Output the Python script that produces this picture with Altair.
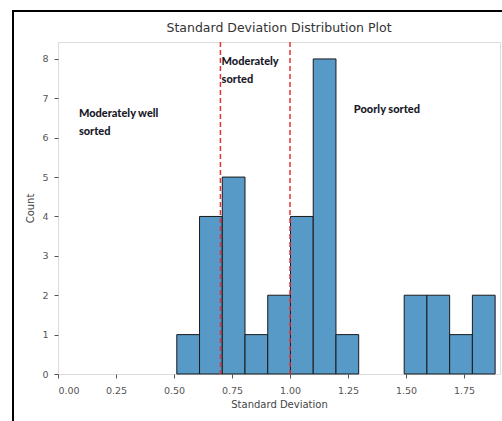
import altair as alt
import pandas as pd

# Histogram bins (left and right edges) and counts
bin_left = [0.512, 0.610, 0.708, 0.806, 0.904, 1.002, 1.100, 1.198, 1.492, 1.590, 1.688, 1.786]
bin_right = [0.610, 0.708, 0.806, 0.904, 1.002, 1.100, 1.198, 1.296, 1.590, 1.688, 1.786, 1.884]
counts = [1, 4, 5, 1, 2, 4, 8, 1, 2, 2, 1, 2]

# Threshold lines
thresholds = [0.7, 1.0]

# Annotations
ann_text = [["Moderately well", "sorted"], ["Moderately", "sorted"], ["Poorly sorted"]]
ann_x = [0.09, 0.705, 1.275]
ann_y = [6.6, 7.92, 6.7]

x_ticks = [0.0, 0.25, 0.5, 0.75, 1.0, 1.25, 1.5, 1.75]
y_ticks = [0, 1, 2, 3, 4, 5, 6, 7, 8]

bars_df = pd.DataFrame({"left": bin_left, "right": bin_right, "count": counts})
thr_df = pd.DataFrame({"x": thresholds})
ann_df = pd.DataFrame({"label": ann_text, "x": ann_x, "y": ann_y})

xscale = alt.Scale(domain=[0, 1.905], nice=False, zero=False)
yscale = alt.Scale(domain=[0, 8.43], nice=False)

axis_common = dict(
    labelFont="DejaVu Sans", labelFontSize=9.5, labelColor="#555",
    titleFont="DejaVu Sans", titleFontSize=10, titleColor="#444", titleFontWeight="normal",
    tickColor="#555", tickSize=4, domain=False, grid=False,
)

bars = alt.Chart(bars_df).mark_rect(
    color="#5799c7", stroke="#1a1a1a", strokeWidth=1
).encode(
    x=alt.X("left:Q", scale=xscale,
            axis=alt.Axis(values=x_ticks, format=".2f", title="Standard Deviation",
                          labelPadding=7, titlePadding=5, **axis_common)),
    x2="right:Q",
    y=alt.Y("count:Q", scale=yscale,
            axis=alt.Axis(values=y_ticks, format="d", title="Count",
                          labelPadding=6, titlePadding=6, **axis_common)),
    y2=alt.datum(0),
)

lines = alt.Chart(thr_df).mark_rule(
    color="#e8333a", strokeDash=[5, 3], strokeWidth=1.5
).encode(x=alt.X("x:Q", scale=xscale))

texts = alt.Chart(ann_df).mark_text(
    align="left", baseline="middle", font="Lato", fontWeight=900,
    fontSize=11, lineHeight=18, color="#1a1a2a"
).encode(
    x=alt.X("x:Q", scale=xscale), y=alt.Y("y:Q", scale=yscale), text="label"
)

# outer black frame lines (left and top) of the screenshot
frame_left = alt.Chart().mark_rule(color="black", strokeWidth=2).encode(
    x=alt.value(-45), y=alt.value(-31), y2=alt.value(379)
)
frame_top = alt.Chart().mark_rule(color="black", strokeWidth=2).encode(
    x=alt.value(-46), x2=alt.value(444), y=alt.value(-31)
)

chart = alt.layer(bars, lines, texts, frame_left, frame_top).properties(
    width=442, height=332,
    title=alt.TitleParams("Standard Deviation Distribution Plot", font="DejaVu Sans",
                          fontSize=12.5, fontWeight="normal", color="#333", offset=-24),
    autosize=alt.AutoSizeParams(type="none"),
    padding={"left": 58, "top": 42, "right": 2, "bottom": 47},
).configure_view(stroke="#555", strokeWidth=1.3).configure(background="white")

chart.save("out.html", embed_options={"renderer": "svg", "actions": False})
